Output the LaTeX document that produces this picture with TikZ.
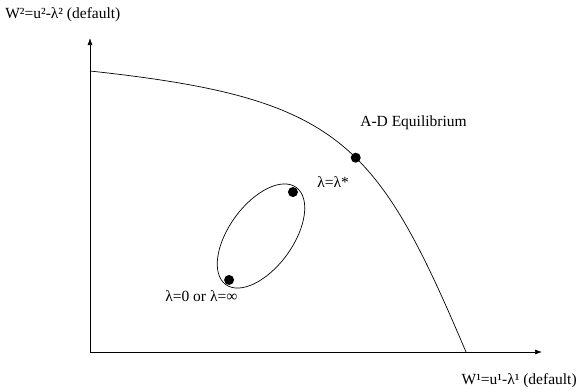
\documentclass[tikz,border=0pt]{standalone}
\usepackage{fontspec}
\setmainfont{Liberation Serif}
\usetikzlibrary{arrows.meta,shapes.geometric,calc}

\tikzset{
  dot/.style={circle, fill=black, inner sep=0pt, minimum size=10pt},
  axis/.style={-{Latex[length=7pt,width=5pt]}, line width=0.7pt},
  lbl/.style={inner sep=0pt, font=\fontsize{15.5}{18}\selectfont}
}

\begin{document}
\begin{tikzpicture}[x=1pt, y=-1pt, line width=0.7pt]
    \useasboundingbox (0,0) rectangle (577,391);
    % axes
    \coordinate (origin) at (90,352);
    \coordinate (ytip) at (90,38);
    \coordinate (xtip) at (542,352);
    \draw[axis] (origin) -- (ytip);
    \draw[axis] (origin) -- (xtip);
    \node[lbl, anchor=west] (ylabel) at (5,15) {W²=u²-λ² (default)};
    \node[lbl, anchor=east] (xlabel) at (577,381) {W¹=u¹-λ¹ (default)};
    % frontier
    \coordinate (ftop) at (90,71);
    \coordinate (fbot) at (466,352);
    \draw (ftop) .. controls (340,98) and (376,140) .. (fbot) node[dot, pos=0.56] (ad) {};
    \node[lbl, anchor=west] (adlabel) at (360,123) {A-D Equilibrium};
    % set of lambda outcomes
    \node[draw, ellipse, rotate=54, inner sep=0pt, minimum width=120pt, minimum height=64pt] (orbit) at (261,236) {};
    \node[dot] (lstar) at ($(orbit.center)!0.9!(orbit.east)$) {};
    \node[dot] (lzero) at ($(orbit.center)!0.9!(orbit.west)$) {};
    \node[lbl, anchor=west] (starlabel) at (317,182) {λ=λ*};
    \node[lbl, anchor=west] (zerolabel) at (165,296) {λ=0 or λ=∞};
\end{tikzpicture}
\end{document}
